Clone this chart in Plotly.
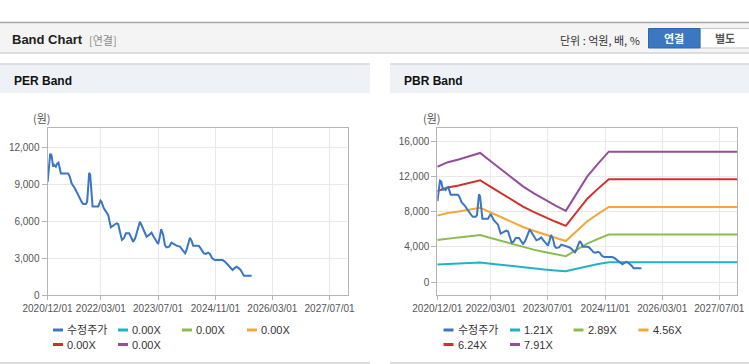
import plotly.graph_objects as go

W, H = 749, 364

# ---------------- data ----------------
price_name = "수정주가"
price_dates = [
    "2020-12-02", "2020-12-10", "2020-12-24", "2021-01-04", "2021-01-10", "2021-01-18",
    "2021-01-27", "2021-02-10", "2021-02-21", "2021-03-05", "2021-03-16", "2021-03-25",
    "2021-04-14", "2021-05-26", "2021-06-09", "2021-06-24", "2021-07-22", "2021-08-11",
    "2021-08-28", "2021-09-17", "2021-10-01", "2021-10-24", "2021-11-04", "2021-11-13",
    "2021-11-21", "2021-11-30", "2021-12-08", "2021-12-20", "2022-01-08", "2022-02-06",
    "2022-02-26", "2022-03-06", "2022-03-26", "2022-04-12", "2022-05-02", "2022-05-25",
    "2022-06-14", "2022-07-12", "2022-07-26", "2022-08-09", "2022-08-27", "2022-09-13",
    "2022-09-30", "2022-10-28", "2022-11-17", "2022-12-01", "2022-12-18", "2023-01-04",
    "2023-01-27", "2023-02-10", "2023-03-02", "2023-03-25", "2023-04-16", "2023-05-06",
    "2023-05-21", "2023-06-12", "2023-07-02", "2023-07-16", "2023-07-28", "2023-08-14",
    "2023-08-28", "2023-09-11", "2023-10-04", "2023-10-24", "2023-11-13", "2023-12-05",
    "2024-01-03", "2024-01-26", "2024-02-17", "2024-02-29", "2024-03-14", "2024-03-28",
    "2024-04-11", "2024-04-25", "2024-05-24", "2024-06-13", "2024-07-06", "2024-07-25",
    "2024-08-11", "2024-08-31", "2024-09-15", "2024-10-04", "2024-10-27", "2024-11-25",
    "2024-12-31", "2025-01-20", "2025-02-18", "2025-03-10", "2025-03-27", "2025-04-10",
    "2025-04-30", "2025-05-20", "2025-06-03", "2025-06-17", "2025-07-01", "2025-08-07",
    "2025-09-05",
]
price_values = [
    9200, 10300, 11500, 11400, 11000, 10450,
    10600, 10450, 10700, 10780, 10300, 9900,
    9900, 9900, 9640, 9100, 8690, 8280,
    7870, 7600, 7410, 7410, 7600, 8820,
    9960, 9770, 8550, 7200, 7200, 7200,
    7680, 7600, 7060, 6790, 6520, 5510,
    5620, 5840, 5780, 5160, 4480, 4620,
    5020, 5020, 4620, 4340, 4620, 5160,
    5970, 5700, 5290, 4750, 4890, 5080,
    4800, 4430, 4150, 4750, 5350, 4890,
    4070, 3880, 3940, 4260, 4150, 4020,
    3940, 3670, 3390, 3670, 4210, 4670,
    4430, 4020, 4020, 3990, 3670, 3390,
    3340, 3450, 3340, 2990, 2850, 2850,
    2850, 2720, 2440, 2170, 2040, 2170,
    2310, 2170, 2040, 1820, 1570, 1570,
    1570,
]

band_dates = [
    "2020-12-01", "2021-03-01", "2021-06-01", "2021-09-01", "2021-12-01", "2022-03-01",
    "2022-06-01", "2022-09-01", "2022-12-01", "2023-03-01", "2023-06-01", "2023-09-01",
    "2023-12-01", "2024-03-01", "2024-06-01", "2024-09-01", "2024-12-01", "2025-12-01",
    "2026-12-01", "2027-12-01",
]
band_121 = [2003, 2081, 2127, 2178, 2241, 2097, 1953, 1810, 1661, 1546, 1436, 1333,
            1238, 1529, 1836, 2057, 2264, 2264, 2264, 2264]
band_289 = [4783, 4971, 5081, 5202, 5352, 5008, 4664, 4323, 3968, 3693, 3430, 3185,
            2956, 3653, 4384, 4913, 5407, 5407, 5407, 5407]
band_456 = [7547, 7843, 8016, 8208, 8445, 7902, 7360, 6822, 6261, 5828, 5413, 5025,
            4665, 5764, 6918, 7752, 8532, 8532, 8532, 8532]
band_624 = [10327, 10733, 10970, 11232, 11556, 10814, 10071, 9335, 8568, 7975, 7407, 6876,
            6384, 7887, 9466, 10608, 11675, 11675, 11675, 11675]
band_791 = [13091, 13605, 13906, 14238, 14649, 13708, 12767, 11833, 10860, 10109, 9389, 8717,
            8092, 9998, 11999, 13447, 14800, 14800, 14800, 14800]

pbr_band_names = ["1.21X", "2.89X", "4.56X", "6.24X", "7.91X"]
per_band_names = ["0.00X", "0.00X", "0.00X", "0.00X", "0.00X"]
pbr_band_values = [band_121, band_289, band_456, band_624, band_791]

x_tick_vals = ["2020-12-01", "2022-03-01", "2023-07-01", "2024-11-01", "2026-03-01", "2027-07-01"]
x_tick_text = ["2020/12/01", "2022/03/01", "2023/07/01", "2024/11/01", "2026/03/01", "2027/07/01"]
x_range = ["2020-12-01", "2027-12-01"]
per_y_ticks = [0, 3000, 6000, 9000, 12000]
per_y_range = [0, 13600]
pbr_y_ticks = [0, 4000, 8000, 12000, 16000]
pbr_y_range = [-1450, 17480]

# ---------------- style ----------------
price_color = "#3a76c6"
band_colors = ["#1fb3c6", "#8cbb50", "#f2a738", "#d2302c", "#964e9c"]
grid_color = "#e9e9e9"
axis_color = "#b5b5b5"
tick_font = dict(family="Liberation Sans, Arial, sans-serif", size=10, color="#555555")
leg_font = dict(family="Liberation Sans, Noto Sans CJK KR, sans-serif", size=11, color="#333333")
kr_font = "Noto Sans CJK KR, sans-serif"


def fx(x):
    return x / W


def fy(y):
    return 1 - y / H


fig = go.Figure()

# PER chart: price only (bands are 0.00X)
fig.add_trace(go.Scatter(x=price_dates, y=price_values, mode="lines", name=price_name,
                         line=dict(color=price_color, width=2), xaxis="x", yaxis="y",
                         showlegend=False))

# PBR chart: bands + price
for name, vals, col in zip(pbr_band_names, pbr_band_values, band_colors):
    fig.add_trace(go.Scatter(x=band_dates, y=vals, mode="lines", name=name,
                             line=dict(color=col, width=2), xaxis="x2", yaxis="y2",
                             showlegend=False))
fig.add_trace(go.Scatter(x=price_dates, y=price_values, mode="lines", name=price_name,
                         line=dict(color=price_color, width=2), xaxis="x2", yaxis="y2",
                         showlegend=False))

common_x = dict(type="date", range=x_range, tickvals=x_tick_vals, ticktext=x_tick_text,
                tickangle=0, automargin=False, showgrid=True, gridcolor=grid_color, showline=True,
                linecolor=axis_color, linewidth=1, mirror=True, ticks="outside", ticklen=4,
                tickcolor=axis_color, tickfont=tick_font, zeroline=False, fixedrange=True)
common_y = dict(automargin=False, showgrid=True, gridcolor=grid_color, showline=True,
                linecolor=axis_color, linewidth=1, mirror=True, ticks="outside", ticklen=5,
                tickcolor=axis_color, tickfont=tick_font, tickformat=",", zeroline=False,
                fixedrange=True)

y_dom = [fy(295), fy(128)]
fig.update_layout(
    template="none",
    width=W, height=H, autosize=False,
    margin=dict(l=0, r=0, t=0, b=0, pad=0, autoexpand=False),
    paper_bgcolor="white", plot_bgcolor="rgba(0,0,0,0)",
    xaxis=dict(common_x, domain=[fx(47.5), fx(347.5)], anchor="y"),
    yaxis=dict(common_y, domain=y_dom, anchor="x", range=per_y_range, tickvals=per_y_ticks),
    xaxis2=dict(common_x, domain=[fx(437.3), fx(737.3)], anchor="y2"),
    yaxis2=dict(common_y, domain=y_dom, anchor="x2", range=pbr_y_range, tickvals=pbr_y_ticks),
)

shapes = []
annotations = []

# top header bar
shapes.append(dict(type="rect", xref="paper", yref="paper", x0=0, x1=1, y0=fy(53), y1=fy(22),
                   fillcolor="#f4f4f4", line=dict(width=0), layer="below"))
shapes.append(dict(type="line", xref="paper", yref="paper", x0=0, x1=1, y0=fy(22.5), y1=fy(22.5),
                   line=dict(color="#a9a9a9", width=1.5)))
shapes.append(dict(type="line", xref="paper", yref="paper", x0=0, x1=1, y0=fy(53), y1=fy(53),
                   line=dict(color="#d4d4d4", width=1.5)))
annotations.append(dict(xref="paper", yref="paper", x=fx(10), y=fy(39.5), xanchor="left",
                        yanchor="middle", showarrow=False, text="<b>Band Chart</b>",
                        font=dict(family="Liberation Sans, Arial, sans-serif", size=13, color="#222")))
annotations.append(dict(xref="paper", yref="paper", x=fx(87), y=fy(39.5), xanchor="left",
                        yanchor="middle", showarrow=False, text="[연결]",
                        font=dict(family=kr_font, size=11, color="#8a8a8a")))
annotations.append(dict(xref="paper", yref="paper", x=fx(642), y=fy(39.5), xanchor="right",
                        yanchor="middle", showarrow=False, text="단위 : 억원, 배, %",
                        font=dict(family=kr_font, size=11, color="#333")))
# buttons
shapes.append(dict(type="rect", xref="paper", yref="paper", x0=fx(700), x1=fx(749.5),
                   y0=fy(48), y1=fy(28.5), fillcolor="white", line=dict(color="#c4c4c4", width=1)))
shapes.append(dict(type="rect", xref="paper", yref="paper", x0=fx(648.5), x1=fx(700),
                   y0=fy(48), y1=fy(28.5), fillcolor="#3b78c1", line=dict(color="#2f66a8", width=1)))
annotations.append(dict(xref="paper", yref="paper", x=fx(674), y=fy(38.5), xanchor="center",
                        yanchor="middle", showarrow=False, text="<b>연결</b>",
                        font=dict(family=kr_font, size=11, color="white")))
annotations.append(dict(xref="paper", yref="paper", x=fx(725), y=fy(38.5), xanchor="center",
                        yanchor="middle", showarrow=False, text="<b>별도</b>",
                        font=dict(family=kr_font, size=11, color="#555")))

# panel headers
for (x0, x1, title) in [(0, 370, "PER Band"), (390, 749, "PBR Band")]:
    shapes.append(dict(type="rect", xref="paper", yref="paper", x0=fx(x0), x1=fx(x1),
                       y0=fy(93), y1=fy(64), fillcolor="#eef2f7", line=dict(width=0), layer="below"))
    shapes.append(dict(type="line", xref="paper", yref="paper", x0=fx(x0), x1=fx(x1),
                       y0=fy(64), y1=fy(64), line=dict(color="#d6d6d6", width=1.5)))
    shapes.append(dict(type="line", xref="paper", yref="paper", x0=fx(x0), x1=fx(x1),
                       y0=fy(363), y1=fy(363), line=dict(color="#cfcfcf", width=1.5)))
    annotations.append(dict(xref="paper", yref="paper", x=fx(x0 + 11.5), y=fy(80.5), xanchor="left",
                            yanchor="middle", showarrow=False, text="<b>" + title + "</b>",
                            font=dict(family="Liberation Sans, Arial, sans-serif", size=12, color="#111")))

# axis unit labels
for x in [31, 421]:
    annotations.append(dict(xref="paper", yref="paper", x=fx(x), y=fy(118), xanchor="left",
                            yanchor="middle", showarrow=False, text="(원)",
                            font=dict(family=kr_font, size=11, color="#555")))


# custom legends
def add_legend(items, cols, rows):
    for i, (name, col) in enumerate(items):
        r, c = divmod(i, 4)
        x0 = cols[c]
        y = rows[r]
        shapes.append(dict(type="line", xref="paper", yref="paper", x0=fx(x0), x1=fx(x0 + 10),
                           y0=fy(y), y1=fy(y), line=dict(color=col, width=3)))
        annotations.append(dict(xref="paper", yref="paper", x=fx(x0 + 12), y=fy(y), xanchor="left",
                                yanchor="middle", showarrow=False, text=name, font=leg_font))


add_legend([(price_name, price_color)] + list(zip(per_band_names, band_colors)),
           [53, 118, 182, 247], [330, 344.5])
add_legend([(price_name, price_color)] + list(zip(pbr_band_names, band_colors)),
           [443.5, 510, 573.5, 638.5], [330, 344.5])

fig.update_layout(shapes=shapes, annotations=annotations, showlegend=False)

fig.write_html("out.html", config={"displayModeBar": False},
               post_script="document.documentElement.style.overflow='hidden';"
                           "document.body.style.margin='0';document.body.style.overflow='hidden';")
